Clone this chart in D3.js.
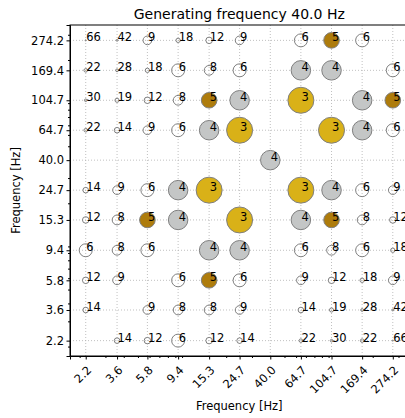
<!DOCTYPE html>
<html>
<head>
<meta charset="utf-8">
<script src="https://cdn.jsdelivr.net/npm/d3@7.9.0/dist/d3.min.js"></script>
<style>
  body { margin: 0; background: #fff; }
  svg { font-family: "DejaVu Sans", sans-serif; }
</style>
</head>
<body>
<svg width="405" height="418"></svg>
<script>
// frequencies used on both axes (Hz)
const freqs = [2.2, 3.6, 5.8, 9.4, 15.3, 24.7, 40.0, 64.7, 104.7, 169.4, 274.2];
const tickLabels = ["2.2", "3.6", "5.8", "9.4", "15.3", "24.7", "40.0", "64.7", "104.7", "169.4", "274.2"];

// order numbers per cell: one row per y frequency (ascending), columns follow freqs
const orders = [
  [null, 14, 12, 6, 12, 14, null, 22, 30, 22, 66],
  [14, null, 9, 8, 8, 9, null, 14, 19, 28, 42],
  [12, 9, null, 6, 5, 6, null, 9, 12, 18, 9],
  [6, 8, 6, null, 4, 4, null, 6, 8, 6, 18],
  [12, 8, 5, 4, null, 3, null, 4, 5, 8, 12],
  [14, 9, 6, 4, 3, null, null, 3, 4, 6, 9],
  [null, null, null, null, null, null, 4, null, null, null, null],
  [22, 14, 9, 6, 4, 3, null, null, 3, 4, 6],
  [30, 19, 12, 8, 5, 4, null, 3, null, 4, 5],
  [22, 28, 18, 6, 8, 6, null, 4, 4, null, 6],
  [66, 42, 9, 18, 12, 9, null, 6, 5, 6, null]
];

const highlightOrders = [3, 4, 5];
const highlightColors = ["#d9b118", "#c4c6c6", "#ae7c0c"];
const title = "Generating frequency 40.0 Hz";

const svg = d3.select("svg");
const mLeft = 70, mTop = 25, mRight = 408.5, mBottom = 356;

// log axes, padded a bit past the outer frequencies
const pad = 1.28;
const x = d3.scaleLog().domain([freqs[0] / pad, freqs[freqs.length - 1] * pad]).range([mLeft, mRight]);
const y = d3.scaleLog().domain([freqs[0] / pad, freqs[freqs.length - 1] * pad]).range([mBottom, mTop]);
const r = d3.scaleLinear().domain([0, 1 / 3]).range([0, 13]);
const fill = d3.scaleOrdinal().domain(highlightOrders).range(highlightColors).unknown("none");

// flatten the table into cells
let cells = [];
orders.forEach((row, i) => {
    row.forEach((n, j) => {
        if (n != null) cells.push({ fx: freqs[j], fy: freqs[i], n: n });
    });
});

// grid
const grid = svg.append("g").attr("stroke", "#b0b0b0").attr("stroke-width", 0.8).attr("stroke-dasharray", "1,2");
grid.selectAll(".gx").data(freqs).enter().append("line")
    .attr("x1", d => x(d)).attr("x2", d => x(d)).attr("y1", mTop).attr("y2", mBottom);
grid.selectAll(".gy").data(freqs).enter().append("line")
    .attr("y1", d => y(d)).attr("y2", d => y(d)).attr("x1", mLeft).attr("x2", mRight);

// minor ticks at the usual log positions
const minor = x.ticks().filter(t => !freqs.includes(t));

const xAxis = svg.append("g").attr("transform", `translate(0,${mBottom})`)
    .call(d3.axisBottom(x).tickValues(freqs).tickFormat((d, i) => tickLabels[i]).tickSizeOuter(0).tickSize(3.5));
xAxis.append("g").call(d3.axisBottom(x).tickValues(minor).tickFormat("").tickSize(2).tickSizeOuter(0))
    .select(".domain").remove();
xAxis.selectAll(".tick text")
    .attr("font-size", 11.5).attr("font-family", "DejaVu Sans").attr("fill", "#000")
    .attr("text-anchor", "end")
    .attr("dy", "0.35em")
    .attr("transform", "translate(3,12) rotate(-45)")
    .attr("y", 0).attr("x", 0);

const yAxis = svg.append("g").attr("transform", `translate(${mLeft},0)`)
    .call(d3.axisLeft(y).tickValues(freqs).tickFormat((d, i) => tickLabels[i]).tickSizeOuter(0).tickSize(3.5));
yAxis.append("g").call(d3.axisLeft(y).tickValues(minor).tickFormat("").tickSize(2).tickSizeOuter(0))
    .select(".domain").remove();
yAxis.selectAll(".tick text")
    .attr("font-size", 11.5).attr("font-family", "DejaVu Sans").attr("fill", "#000").attr("x", -6);

svg.selectAll(".domain").attr("stroke", "#000");
svg.selectAll(".tick line").attr("stroke", "#000");

// frame (top and right)
svg.append("rect").attr("x", mLeft).attr("y", mTop).attr("width", mRight - mLeft).attr("height", mBottom - mTop)
    .attr("fill", "none").attr("stroke", "#000").attr("stroke-width", 1);

// circles
svg.append("g").selectAll("circle").data(cells).enter().append("circle")
    .attr("cx", d => x(d.fx)).attr("cy", d => y(d.fy))
    .attr("r", d => r(1 / d.n))
    .attr("fill", d => fill(d.n))
    .attr("stroke", "#7f7f7f").attr("stroke-width", 1);

// labels
svg.append("g").selectAll("text").data(cells).enter().append("text")
    .attr("x", d => x(d.fx) + 0.5).attr("y", d => y(d.fy) + 1)
    .attr("font-size", 11.5).attr("fill", "#000")
    .text(d => d.n);

// titles
svg.append("text").attr("x", (mLeft + mRight) / 2).attr("y", mTop - 6)
    .attr("text-anchor", "middle").attr("font-size", 14).text(title);
svg.append("text").attr("x", (mLeft + mRight) / 2).attr("y", 410)
    .attr("text-anchor", "middle").attr("font-size", 11.5).text("Frequency [Hz]");
svg.append("text").attr("transform", `translate(20,${(mTop + mBottom) / 2}) rotate(-90)`)
    .attr("text-anchor", "middle").attr("font-size", 11.5).text("Frequency [Hz]");
</script>
</body>
</html>
